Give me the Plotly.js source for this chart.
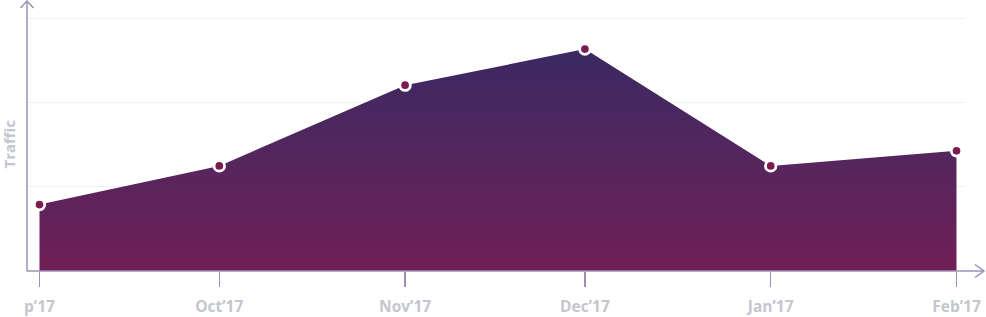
<!DOCTYPE html>
<html>
<head>
<meta charset="utf-8">
<script src="https://cdn.plot.ly/plotly-3.0.1.min.js"></script>
<style>html,body{margin:0;padding:0;background:#fff;}#chart{width:986px;height:317px;}</style>
</head>
<body>
<div id="chart"></div>
<script>
// Data
const months = ['2017-09-01', '2017-10-01', '2017-11-01', '2017-12-01', '2018-01-01', '2018-02-01'];
const monthLabels = ['p’17', 'Oct’17', 'Nov’17', 'Dec’17', 'Jan’17', 'Feb’17'];
const traffic = [79, 125, 221, 264, 125, 143];
const gridValues = [100, 200, 300];

const axisColor = '#9d8fb5';
const labelColor = '#c3c6ce';

const trace = {
  x: months,
  y: traffic,
  type: 'scatter',
  mode: 'lines+markers',
  fill: 'tozeroy',
  fillgradient: {
    type: 'vertical',
    colorscale: [[0, '#6f1f56'], [0.5, '#55265d'], [1, '#3b2862']]
  },
  line: {width: 0, color: '#3b2862'},
  marker: {size: 10.5, color: '#7a1c50', line: {color: '#ffffff', width: 2.8}},
  hoverinfo: 'skip'
};

const pw = 938, ph = 269;
const px = v => v / pw, py = v => v / ph;

const layout = {
  width: 986,
  height: 317,
  margin: {l: 27, r: 21, t: 2, b: 46},
  paper_bgcolor: '#ffffff',
  plot_bgcolor: '#ffffff',
  showlegend: false,
  xaxis: {
    type: 'date',
    range: ['2017-08-29 22:00', '2018-02-02 10:00'],
    tickvals: months,
    ticktext: monthLabels,
    ticks: 'outside',
    ticklen: 15,
    tickwidth: 1.5,
    tickcolor: axisColor,
    ticklabelstandoff: 6,
    showgrid: false,
    showline: false,
    zeroline: false,
    tickfont: {family: 'Open Sans', size: 15.5, color: labelColor, weight: 700}
  },
  yaxis: {
    range: [0, 320],
    tickvals: gridValues,
    showticklabels: false,
    ticks: '',
    showgrid: true,
    gridcolor: '#f0f0f6',
    gridwidth: 1,
    zeroline: false,
    showline: false
  },
  shapes: [
    {type: 'line', xref: 'paper', yref: 'paper', x0: 0, y0: 0, x1: 0, y1: 1 + py(1), line: {color: axisColor, width: 1.5}, layer: 'above'},
    {type: 'path', xref: 'paper', yref: 'paper',
      path: `M ${-px(6.5)} ${1 - py(6)} L 0 ${1 + py(1)} L ${px(6.5)} ${1 - py(6)}`,
      line: {color: axisColor, width: 1.5}, layer: 'above'},
    {type: 'line', xref: 'paper', yref: 'paper', x0: 0, y0: 0, x1: 1 + px(19), y1: 0, line: {color: axisColor, width: 1.5}, layer: 'above'},
    {type: 'path', xref: 'paper', yref: 'paper',
      path: `M ${1 + px(10)} ${py(6.5)} L ${1 + px(19)} 0 L ${1 + px(10)} ${-py(6.5)}`,
      line: {color: axisColor, width: 1.5}, layer: 'above'}
  ],
  annotations: [
    {text: 'Traffic', xref: 'paper', yref: 'paper', x: px(-18.5), y: py(127), xanchor: 'center', yanchor: 'middle',
      textangle: -90, showarrow: false, font: {family: 'Open Sans', size: 15, color: labelColor, weight: 700}}
  ]
};

Plotly.newPlot('chart', [trace], layout, {displayModeBar: false, staticPlot: true});
</script>
</body>
</html>
